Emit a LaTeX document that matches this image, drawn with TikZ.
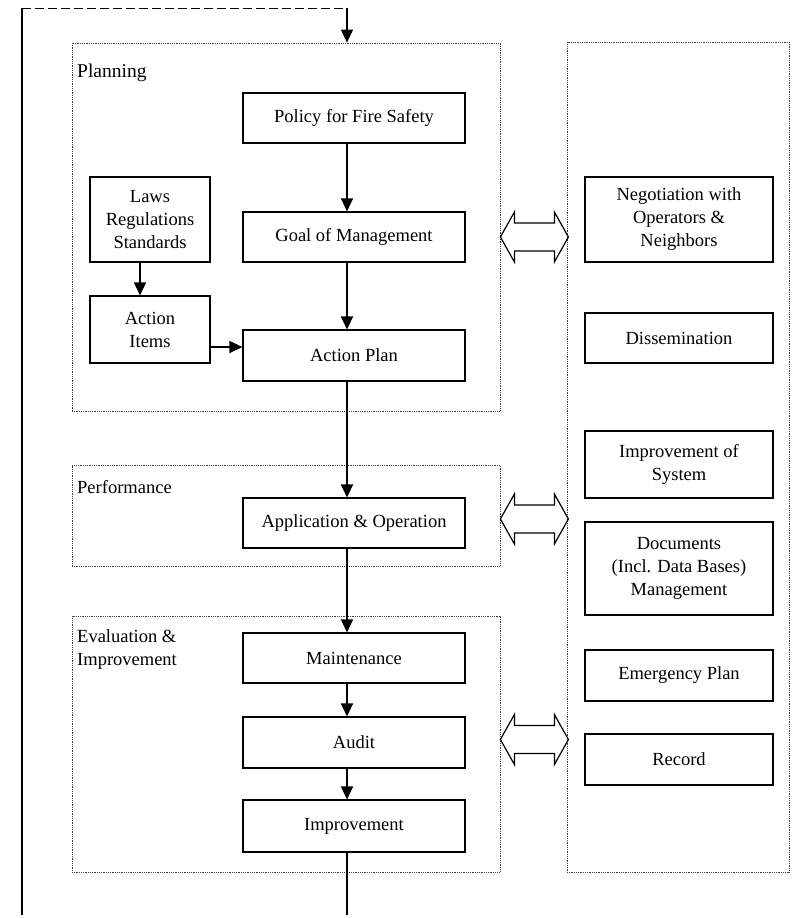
\documentclass[tikz,border=0pt]{standalone}
\usepackage{fontspec}
\setmainfont{Liberation Serif}
\usetikzlibrary{arrows.meta,calc}
\begin{document}
\begin{tikzpicture}[x=1pt,y=-1pt,
  txt/.style={font=\fontsize{18.5}{23}\selectfont},
  box/.style={txt, draw, line width=1.1pt, inner sep=0pt, align=center},
  group/.style={draw=black!75, densely dotted, line width=0.8pt, inner sep=0pt},
  lbl/.style={txt, anchor=west, align=left, inner sep=0pt},
  arr/.style={line width=1.1pt, -{Triangle[length=13pt,width=12pt]}},
  conn/.style={line width=1.1pt},
  dbl/.style={line width=1.2pt, line join=miter},
  dblarrow/.pic={\draw[dbl] (0,0) -- ++(14,-25) -- ++(0,11) -- ++(40,0) -- ++(0,-11) -- ++(14,25) -- ++(-14,25) -- ++(0,-11) -- ++(-40,0) -- ++(0,11) -- cycle;}]
\useasboundingbox (0,0) rectangle (794,918);

% group frames
\node[group, minimum width=428pt, minimum height=368pt] (planG) at (286,227) {};
\node[group, minimum width=428pt, minimum height=101pt] (perfG) at (286,515.5) {};
\node[group, minimum width=428pt, minimum height=256pt] (evalG) at (286,744) {};
\node[group, minimum width=222pt, minimum height=830pt] (rightG) at (678,457) {};

% group labels
\node[lbl, font=\fontsize{19.5}{23}\selectfont] (lplan) at (77,73) {Planning};
\node[lbl] (lperf) at (77,487) {Performance};
\node[lbl] (leval) at (77,650) {Evaluation \&\\Improvement};

% main column
\node[box, minimum width=222pt, minimum height=50pt] (policy) at (354,118) {Policy for Fire Safety};
\node[box, minimum width=222pt, minimum height=50pt] (goal) at (354,237) {Goal of Management};
\node[box, minimum width=222pt, minimum height=51pt] (ap) at (354,355.5) {Action Plan};
\node[box, minimum width=120pt, minimum height=85pt] (laws) at (150,219.5) {Laws\\Regulations\\Standards};
\node[box, minimum width=120pt, minimum height=67pt] (items) at (150,329.5) {Action\\Items};
\node[box, minimum width=222pt, minimum height=50pt] (app) at (354,523) {Application \& Operation};
\node[box, minimum width=222pt, minimum height=50pt] (maint) at (354,658) {Maintenance};
\node[box, minimum width=222pt, minimum height=51pt] (audit) at (354,742.5) {Audit};
\node[box, minimum width=222pt, minimum height=52pt] (impr) at (354,826) {Improvement};

% right column
\node[box, minimum width=188pt, minimum height=85pt] (neg) at (679,219.5) {Negotiation with\\Operators \&\\Neighbors};
\node[box, minimum width=188pt, minimum height=50pt] (diss) at (679,338) {Dissemination};
\node[box, minimum width=188pt, minimum height=67pt] (isys) at (679,464.5) {Improvement of\\System};
\node[box, minimum width=188pt, minimum height=93pt] (docs) at (679,568.5) {Documents\\(Incl. Data Bases)\\Management};
\node[box, minimum width=188pt, minimum height=51pt] (emer) at (679,675.5) {Emergency Plan};
\node[box, minimum width=188pt, minimum height=51pt] (rec) at (679,759.5) {Record};

% spine
\coordinate (sp) at (347,0);
\coordinate (tl) at (22,8);
\coordinate (bl) at (22,915);
\coordinate (bend) at (347,8);
\coordinate (bb) at (347,915);

\draw[conn] (bl) -- (tl);
\draw[line width=1pt, dash pattern=on 9pt off 4pt] (tl) -- (bend);
\draw[arr] (bend) -- (sp |- planG.north);
\draw[arr] (sp |- policy.south) -- (sp |- goal.north);
\draw[arr] (sp |- goal.south) -- (sp |- ap.north);
\draw[arr] ([xshift=-10pt]laws.south) -- ([xshift=-10pt]items.north);
\draw[arr] ([yshift=-17.5pt]items.east) coordinate (ia) -- (ia -| ap.west);
\draw[arr] (sp |- ap.south) -- (sp |- app.north);
\draw[arr] (sp |- app.south) -- (sp |- maint.north);
\draw[arr] (sp |- maint.south) -- (sp |- audit.north);
\draw[arr] (sp |- audit.south) -- (sp |- impr.north);
\draw[conn] (sp |- impr.south) -- (bb);

% double arrows
\coordinate (d1) at (planG.east |- goal.center);
\coordinate (d2) at ([yshift=4pt]perfG.east |- app.center);
\coordinate (d3) at ([yshift=3pt]evalG.east |- audit.center);
\pic at (d1) {dblarrow};
\pic at (d2) {dblarrow};
\pic at (d3) {dblarrow};
\end{tikzpicture}
\end{document}
